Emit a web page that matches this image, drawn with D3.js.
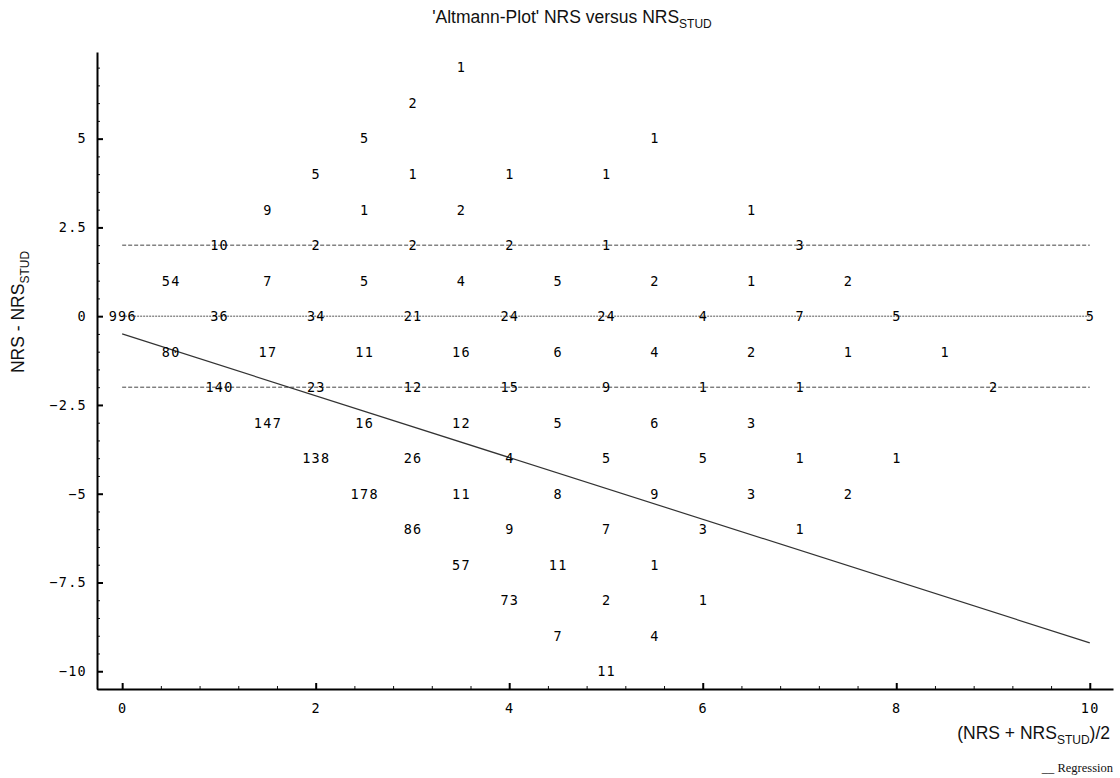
<!DOCTYPE html>
<html>
<head>
<meta charset="utf-8">
<script src="https://cdn.jsdelivr.net/npm/d3@7"></script>
<style>
  body { margin: 0; background: #fff; }
  .cnt { font-family: "DejaVu Sans Mono", monospace; font-size: 13.5px; letter-spacing: 1.3px; fill: #000; }
  .tick text { font-family: "DejaVu Sans Mono", monospace; font-size: 13.5px; letter-spacing: 1.3px; fill: #000; }
  .lbl { font-family: "Liberation Sans", Arial, sans-serif; font-size: 17.5px; fill: #111; }
</style>
</head>
<body>
<div id="chart"></div>
<script>
// mean (NRS + NRS_STUD)/2, difference NRS - NRS_STUD, count of cases
const means = [
  3.5,
  3,
  2.5, 5.5,
  2, 3, 4, 5,
  1.5, 2.5, 3.5, 6.5,
  1, 2, 3, 4, 5, 7,
  0.5, 1.5, 2.5, 3.5, 4.5, 5.5, 6.5, 7.5,
  0, 1, 2, 3, 4, 5, 6, 7, 8, 10,
  0.5, 1.5, 2.5, 3.5, 4.5, 5.5, 6.5, 7.5, 8.5,
  1, 2, 3, 4, 5, 6, 7, 9,
  1.5, 2.5, 3.5, 4.5, 5.5, 6.5,
  2, 3, 4, 5, 6, 7, 8,
  2.5, 3.5, 4.5, 5.5, 6.5, 7.5,
  3, 4, 5, 6, 7,
  3.5, 4.5, 5.5,
  4, 5, 6,
  4.5, 5.5,
  5
];
const diffs = [
  7,
  6,
  5, 5,
  4, 4, 4, 4,
  3, 3, 3, 3,
  2, 2, 2, 2, 2, 2,
  1, 1, 1, 1, 1, 1, 1, 1,
  0, 0, 0, 0, 0, 0, 0, 0, 0, 0,
  -1, -1, -1, -1, -1, -1, -1, -1, -1,
  -2, -2, -2, -2, -2, -2, -2, -2,
  -3, -3, -3, -3, -3, -3,
  -4, -4, -4, -4, -4, -4, -4,
  -5, -5, -5, -5, -5, -5,
  -6, -6, -6, -6, -6,
  -7, -7, -7,
  -8, -8, -8,
  -9, -9,
  -10
];
const counts = [
  1,
  2,
  5, 1,
  5, 1, 1, 1,
  9, 1, 2, 1,
  10, 2, 2, 2, 1, 3,
  54, 7, 5, 4, 5, 2, 1, 2,
  996, 36, 34, 21, 24, 24, 4, 7, 5, 5,
  80, 17, 11, 16, 6, 4, 2, 1, 1,
  140, 23, 12, 15, 9, 1, 1, 2,
  147, 16, 12, 5, 6, 3,
  138, 26, 4, 5, 5, 1, 1,
  178, 11, 8, 9, 3, 2,
  86, 9, 7, 3, 1,
  57, 11, 1,
  73, 2, 1,
  7, 4,
  11
];

const limitLines = [2, -2];          // dashed
const zeroLine = [0];                // dotted
const regX = [0, 10];
const regY = [-0.5, -9.2];

const xMajor = [0, 2, 4, 6, 8, 10];
const yMajor = [5, 2.5, 0, -2.5, -5, -7.5, -10];

const width = 1120, height = 778;
const svg = d3.select("#chart").append("svg")
  .attr("width", width)
  .attr("height", height);

const x = d3.scaleLinear().domain([-0.26, 10.24]).range([97, 1113]);
const y = d3.scaleLinear().domain([-10.5, 7.44]).range([689, 52]);

// minor ticks
const xMinor = d3.range(0, 10.21, 0.4).filter(v => !xMajor.some(m => Math.abs(m - v) < 1e-6));
const yMinor = d3.range(-10.5, 7.3, 0.5).filter(v => !yMajor.some(m => Math.abs(m - v) < 1e-6));

svg.append("g")
  .attr("transform", `translate(0,${y.range()[0]})`)
  .call(d3.axisBottom(x).tickValues(xMinor).tickSizeInner(-3).tickSizeOuter(0).tickFormat(""))
  .call(g => g.select(".domain").remove())
  .selectAll("line").attr("stroke", "#111");

svg.append("g")
  .attr("transform", `translate(${x.range()[0]},0)`)
  .call(d3.axisLeft(y).tickValues(yMinor).tickSizeInner(-3).tickSizeOuter(0).tickFormat(""))
  .call(g => g.select(".domain").remove())
  .selectAll("line").attr("stroke", "#111");

const xAxis = svg.append("g")
  .attr("transform", `translate(0,${y.range()[0]})`)
  .call(d3.axisBottom(x).tickValues(xMajor).tickSizeInner(-6).tickSizeOuter(0).tickPadding(14).tickFormat(d3.format("d")));
xAxis.select(".domain").attr("stroke", "#000").attr("stroke-width", 2);
xAxis.selectAll(".tick line").attr("stroke", "#000").attr("stroke-width", 2);

const yAxis = svg.append("g")
  .attr("transform", `translate(${x.range()[0]},0)`)
  .call(d3.axisLeft(y).tickValues(yMajor).tickSizeInner(-6).tickSizeOuter(0).tickPadding(10).tickFormat(d => d3.format("")(d)));
yAxis.select(".domain").attr("stroke", "#000").attr("stroke-width", 2);
yAxis.selectAll(".tick line").attr("stroke", "#000").attr("stroke-width", 2);
yAxis.selectAll(".tick text").text(d => d < 0 ? "\u2212" + Math.abs(d) : d);

// reference lines
svg.selectAll("line.limit")
  .data(limitLines)
  .join("line")
  .attr("class", "limit")
  .attr("x1", x(0)).attr("x2", x(10))
  .attr("y1", d => y(d)).attr("y2", d => y(d))
  .attr("stroke", "#444")
  .attr("stroke-dasharray", "4,2");

svg.selectAll("line.zero")
  .data(zeroLine)
  .join("line")
  .attr("class", "zero")
  .attr("x1", x(0)).attr("x2", x(10))
  .attr("y1", d => y(d)).attr("y2", d => y(d))
  .attr("stroke", "#555")
  .attr("stroke-dasharray", "2,1");

// regression
svg.append("path")
  .datum(regX.map((v, i) => [v, regY[i]]))
  .attr("fill", "none")
  .attr("stroke", "#333")
  .attr("stroke-width", 1.2)
  .attr("d", d3.line().x(d => x(d[0])).y(d => y(d[1])));

// count labels
svg.selectAll("text.cnt")
  .data(counts.map((c, i) => ({m: means[i], d: diffs[i], c})))
  .join("text")
  .attr("class", "cnt")
  .attr("x", d => x(d.m) + 0.65)
  .attr("y", d => y(d.d))
  .attr("dy", "0.36em")
  .attr("text-anchor", "middle")
  .text(d => d.c);

// title
const title = svg.append("text")
  .attr("class", "lbl")
  .attr("x", 572)
  .attr("y", 23)
  .attr("text-anchor", "middle");
title.append("tspan").text("'Altmann-Plot' NRS versus NRS");
title.append("tspan").attr("font-size", 12).attr("dy", 5).text("STUD");

// y label
const ylab = svg.append("text")
  .attr("class", "lbl")
  .attr("transform", "translate(24,312) rotate(-90)")
  .attr("text-anchor", "middle");
ylab.append("tspan").text("NRS - NRS");
ylab.append("tspan").attr("font-size", 12).attr("dy", 5).text("STUD");

// x label
const xlab = svg.append("text")
  .attr("class", "lbl")
  .attr("x", 1110)
  .attr("y", 739)
  .attr("text-anchor", "end");
xlab.append("tspan").text("(NRS + NRS");
xlab.append("tspan").attr("font-size", 12).attr("dy", 5).text("STUD");
xlab.append("tspan").attr("dy", -5).text(")/2");

// legend
svg.append("text")
  .attr("x", 1113)
  .attr("y", 772)
  .attr("text-anchor", "end")
  .attr("font-family", "Liberation Serif, serif")
  .attr("font-size", 12.5)
  .attr("fill", "#111")
  .text("__ Regression");
</script>
</body>
</html>
